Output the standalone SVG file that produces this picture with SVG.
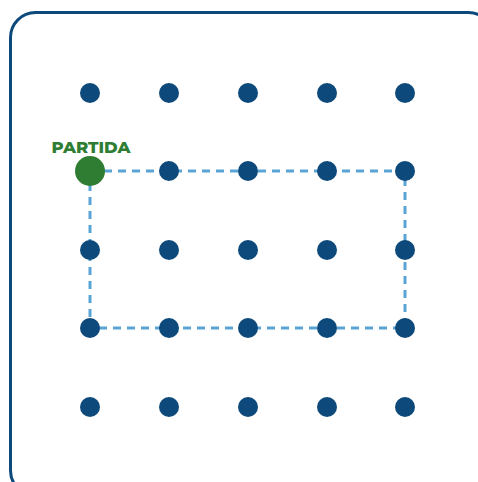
<svg xmlns="http://www.w3.org/2000/svg" width="478" height="482" viewBox="0 0 478 482">
<style>
.dot{fill:#0d4a7b}
.path{fill:none;stroke:#5aa3d5;stroke-width:3;stroke-dasharray:8 6}
.lbl{font-family:"Montserrat","Open Sans","Liberation Sans",sans-serif;font-weight:800;font-size:16.5px;fill:#2e7d32}
</style>
<rect x="0" y="0" width="478" height="482" fill="#ffffff"/>
<rect x="10.5" y="12.5" width="483" height="483" rx="25" fill="#ffffff" stroke="#0d4a7b" stroke-width="3"/>
<g id="connectors">
<path class="path" d="M90 171 H405 V328 H90 Z"/>
</g>
<g id="row1"><circle class="dot" cx="90" cy="93" r="10"/><circle class="dot" cx="169" cy="93" r="10"/><circle class="dot" cx="248" cy="93" r="10"/><circle class="dot" cx="327" cy="93" r="10"/><circle class="dot" cx="405" cy="93" r="10"/></g>
<g id="row2"><circle class="dot" cx="169" cy="171" r="10"/><circle class="dot" cx="248" cy="171" r="10"/><circle class="dot" cx="327" cy="171" r="10"/><circle class="dot" cx="405" cy="171" r="10"/></g>
<g id="row3"><circle class="dot" cx="90" cy="250" r="10"/><circle class="dot" cx="169" cy="250" r="10"/><circle class="dot" cx="248" cy="250" r="10"/><circle class="dot" cx="327" cy="250" r="10"/><circle class="dot" cx="405" cy="250" r="10"/></g>
<g id="row4"><circle class="dot" cx="90" cy="328" r="10"/><circle class="dot" cx="169" cy="328" r="10"/><circle class="dot" cx="248" cy="328" r="10"/><circle class="dot" cx="327" cy="328" r="10"/><circle class="dot" cx="405" cy="328" r="10"/></g>
<g id="row5"><circle class="dot" cx="90" cy="407" r="10"/><circle class="dot" cx="169" cy="407" r="10"/><circle class="dot" cx="248" cy="407" r="10"/><circle class="dot" cx="327" cy="407" r="10"/><circle class="dot" cx="405" cy="407" r="10"/></g>
<g id="start">
<circle cx="90" cy="171" r="15" fill="#2e7d32"/>
<text class="lbl" x="91" y="153" text-anchor="middle">PARTIDA</text>
</g>
</svg>
